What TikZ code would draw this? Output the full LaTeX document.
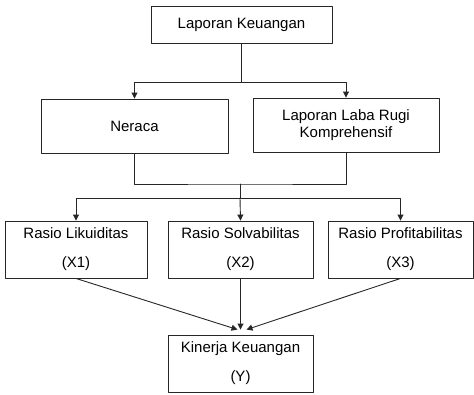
\documentclass[tikz,border=0pt]{standalone}
\usepackage{fontspec}
\setmainfont{Liberation Sans}
\usetikzlibrary{arrows.meta}

\tikzset{
  kotak/.style={
    draw=black!85,
    line width=0.9pt,
    inner sep=0pt,
    align=center,
    font=\fontsize{15}{18}\selectfont
  },
  panah/.style={
    draw=black!85,
    line width=0.9pt,
    -{Triangle[length=6pt,width=6pt]}
  },
  garis/.style={
    draw=black!85,
    line width=0.9pt
  }
}

\begin{document}
\begin{tikzpicture}[
  x=1pt,
  y=-1pt,
  line cap=round,
  line join=round
]
  \useasboundingbox (0,0) rectangle (474,394);

  % Laporan
  \node[kotak, minimum width=181pt, minimum height=37pt]
    (lapkeu) at (241.5,24.5) {Laporan Keuangan};

  \node[kotak, minimum width=187pt, minimum height=54pt]
    (neraca) at (134.5,126) {Neraca};

  \node[kotak, minimum width=186pt, minimum height=54pt]
    (labarugi) at (346,125) {Laporan Laba Rugi\\[-1pt]Komprehensif};

  % Rasio
  \node[kotak, minimum width=142pt, minimum height=57pt]
    (likuid) at (76,249.5) {Rasio Likuiditas\\[11pt](X1)};

  \node[kotak, minimum width=145pt, minimum height=57pt]
    (solva) at (240.5,249.5) {Rasio Solvabilitas\\[11pt](X2)};

  \node[kotak, minimum width=145pt, minimum height=57pt]
    (profit) at (400.5,249.5) {Rasio Profitabilitas\\[11pt](X3)};

  % Kinerja
  \node[kotak, minimum width=145pt, minimum height=57pt]
    (kinerja) at (240.5,363.5) {Kinerja Keuangan\\[11pt](Y)};

  % Cabang atas
  \coordinate (cabang1) at (lapkeu.south |- 0,82);

  \draw[garis]
    (lapkeu.south) -- (cabang1);

  \draw[panah]
    (cabang1) -| (neraca.north);

  \draw[panah]
    (cabang1) -| (labarugi.north);

  % Gabungan
  \coordinate (gabung) at (240,184);
  \coordinate (cabang2) at (240,198);

  \draw[garis]
    (neraca.south) |- (gabung) -| (labarugi.south);

  \draw[garis]
    (gabung) -- (cabang2);

  \draw[panah]
    (cabang2) -| (likuid.north);

  \draw[panah]
    (cabang2) -- (solva.north);

  \draw[panah]
    (cabang2) -| (profit.north);

  % Ke kinerja
  \draw[panah]
    (likuid.south) -- ([xshift=-3pt,yshift=5pt]kinerja.north);

  \draw[panah]
    (solva.south) -- ([yshift=5pt]kinerja.north);

  \draw[panah]
    (profit.south) -- ([xshift=6pt,yshift=5pt]kinerja.north);
\end{tikzpicture}
\end{document}
